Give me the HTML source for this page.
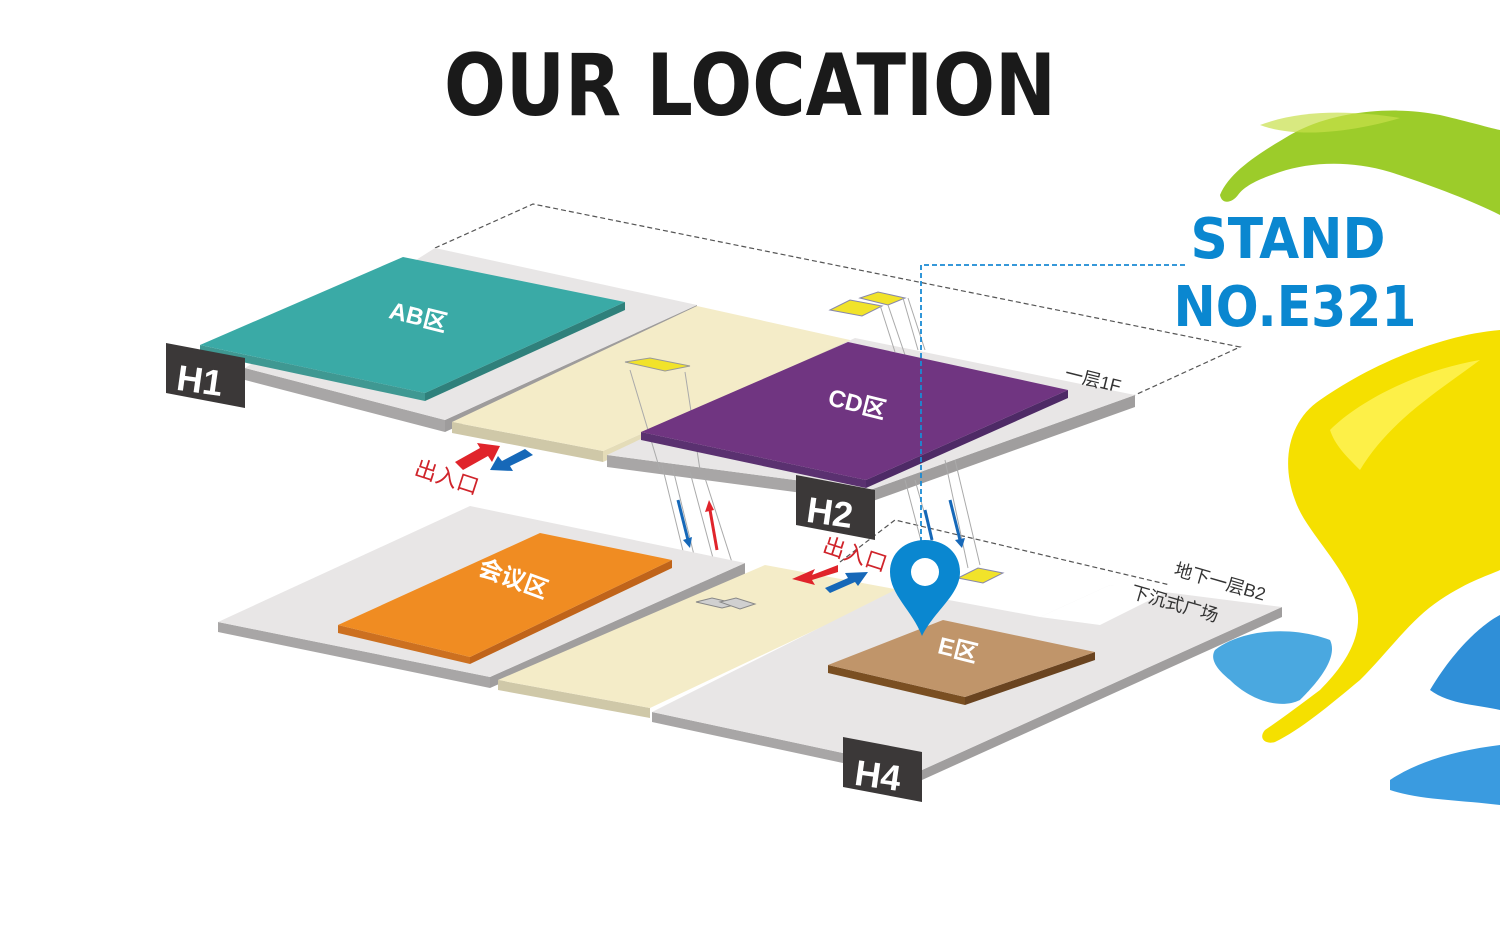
<!DOCTYPE html>
<html><head><meta charset="utf-8"><style>
html,body{margin:0;padding:0;background:#fff;}
svg{display:block}
text{font-family:"Liberation Sans","Noto Sans CJK SC",sans-serif;}
</style></head><body>
<svg width="1500" height="925" viewBox="0 0 1500 925" xmlns="http://www.w3.org/2000/svg">
<rect width="1500" height="925" fill="#fff"/>
<text x="750" y="115" text-anchor="middle" font-size="86" font-weight="bold" fill="#1a1a1a" style="font-family:'DejaVu Sans','Liberation Sans',sans-serif" textLength="612" lengthAdjust="spacingAndGlyphs">OUR LOCATION</text>

<!-- paint splashes -->
<path d="M1220,195 C1230,170 1265,150 1290,135 C1330,112 1390,105 1440,115 C1470,122 1490,128 1500,130 L1500,215 C1470,200 1430,185 1390,172 C1350,160 1310,162 1280,172 C1262,178 1245,185 1238,195 C1232,203 1222,205 1220,195Z" fill="#9ccc2a"/>
<path d="M1260,125 C1300,110 1350,110 1400,118 C1360,130 1300,140 1260,125Z" fill="#c8e04a" opacity="0.7"/>
<path d="M1500,330 C1440,335 1370,365 1320,400 C1290,420 1280,460 1295,500 C1305,530 1340,560 1355,600 C1365,630 1350,660 1320,690 C1300,705 1280,720 1265,730 C1258,738 1265,745 1275,742 C1300,730 1330,705 1360,680 C1390,650 1410,620 1440,600 C1470,580 1490,575 1500,570Z" fill="#f5e000"/>
<path d="M1330,430 C1360,400 1420,370 1480,360 C1440,390 1390,420 1360,470 C1345,455 1335,445 1330,430Z" fill="#fff45a" opacity="0.8"/>
<path d="M1215,650 C1240,630 1290,625 1330,640 C1340,660 1310,690 1300,700 C1280,710 1250,700 1230,680 C1215,668 1210,658 1215,650Z" fill="#4aa8e0"/>
<path d="M1430,690 C1460,640 1490,620 1500,615 L1500,710 C1480,705 1450,705 1430,690Z" fill="#2f8fd8"/>
<path d="M1390,780 C1420,760 1460,750 1500,745 L1500,805 C1460,800 1420,800 1390,790Z" fill="#3a9be0"/>

<!-- dashed outlines -->
<polyline points="435,248 533,204 1240,347 1135,395" fill="none" stroke="#555" stroke-width="1.2" stroke-dasharray="5,3"/>
<polyline points="840,562 895,520 1170,585" fill="none" stroke="#555" stroke-width="1.2" stroke-dasharray="5,3"/>

<!-- UPPER FLOOR -->
<!-- left gray slab -->
<polygon points="245,368 245,380 445,432 445,420" fill="#a8a6a6"/>
<polygon points="445,420 445,432 697,317 697,305" fill="#9e9c9c"/>
<polygon points="245,368 435,248 697,305 445,420" fill="#e8e6e6"/>
<!-- teal -->
<polygon points="200,345 200,353 425,401 425,393" fill="#3f9892"/>
<polygon points="425,393 425,401 625,310 625,302" fill="#2f807b"/>
<polygon points="200,345 403,257 625,302 425,393" fill="#3aaaa6"/>
<text x="418" y="325" font-size="24" font-weight="bold" fill="#fff" text-anchor="middle" transform="rotate(14 418 318)">AB区</text>
<!-- H1 -->
<polygon points="166,343 245,358 245,408 166,393" fill="#3b3838"/>
<text x="200" y="393" font-size="36" font-weight="bold" fill="#fff" text-anchor="middle" transform="rotate(8 200 380)">H1</text>
<!-- beige -->
<polygon points="452,422 452,433 603,462 603,451" fill="#cfc8a8"/>
<polygon points="603,451 603,462 850,352 850,340" fill="#e4dcb8"/>
<polygon points="452,422 697,306 850,340 603,451" fill="#f4ecc8"/>
<polygon points="625,362 650,358 690,366 665,371" fill="#f1e32a" stroke="#999" stroke-width="1"/>
<!-- right gray slab -->
<polygon points="607,455 607,467 870,502 870,490" fill="#a8a6a6"/>
<polygon points="870,490 870,502 1135,407 1135,395" fill="#a09e9e"/>
<polygon points="607,455 855,338 1135,395 870,490" fill="#e8e6e6"/>
<!-- escalator top right -->
<polygon points="830,310 850,300 882,306 862,316" fill="#f1e32a" stroke="#8888aa" stroke-width="1"/>
<polygon points="860,298 878,292 905,298 888,305" fill="#f1e32a" stroke="#8888aa" stroke-width="1"/>
<g stroke="#aaa" stroke-width="1" fill="none">
<line x1="880" y1="305" x2="895" y2="352"/><line x1="888" y1="305" x2="905" y2="355"/>
<line x1="903" y1="298" x2="918" y2="350"/><line x1="908" y1="298" x2="925" y2="350"/>
<line x1="905" y1="480" x2="930" y2="575"/><line x1="915" y1="480" x2="942" y2="575"/>
<line x1="945" y1="460" x2="968" y2="568"/><line x1="955" y1="460" x2="980" y2="565"/>
<line x1="662" y1="465" x2="695" y2="600"/><line x1="672" y1="465" x2="705" y2="600"/>
<line x1="690" y1="472" x2="725" y2="603"/><line x1="705" y1="478" x2="745" y2="603"/>
<line x1="630" y1="370" x2="660" y2="470"/><line x1="685" y1="372" x2="700" y2="470"/>
</g>
<!-- purple -->
<polygon points="641,432 641,440 866,488 866,480" fill="#5a3170"/>
<polygon points="866,480 866,488 1068,398 1068,390" fill="#4e2a66"/>
<polygon points="641,432 848,342 1068,390 866,480" fill="#703581"/>
<text x="857" y="412" font-size="24" font-weight="bold" fill="#fff" text-anchor="middle" transform="rotate(14 857 405)">CD区</text>
<text x="1093" y="386" font-size="18" fill="#333" text-anchor="middle" transform="rotate(14 1093 380)">一层1F</text>
<!-- H2 -->
<polygon points="796,475 875,490 875,540 796,525" fill="#3b3838"/>
<text x="830" y="525" font-size="36" font-weight="bold" fill="#fff" text-anchor="middle" transform="rotate(8 830 512)">H2</text>

<!-- entrance arrows upper -->
<polygon points="455,462 480,448 477,443 500,446 492,462 488,456 463,470" fill="#e0242b"/>
<polygon points="533,455 510,466 513,471 490,470 498,456 502,461 525,449" fill="#1668b8"/>
<text x="447" y="485" font-size="22" fill="#d0242b" text-anchor="middle" transform="rotate(18 447 477)">出入口</text>
<!-- escalator arrows -->
<line x1="678" y1="500" x2="688" y2="540" stroke="#1668b8" stroke-width="3"/><polygon points="683,540 692,537 690,548" fill="#1668b8"/>
<line x1="717" y1="550" x2="710" y2="510" stroke="#e0242b" stroke-width="3"/><polygon points="705,512 714,510 709,500" fill="#e0242b"/>
<line x1="925" y1="510" x2="932" y2="540" stroke="#1668b8" stroke-width="3"/>
<line x1="950" y1="500" x2="960" y2="540" stroke="#1668b8" stroke-width="3"/><polygon points="955,540 965,538 962,548" fill="#1668b8"/>

<!-- LOWER FLOOR -->
<polygon points="218,622 218,632 490,688 490,677" fill="#a8a6a6"/>
<polygon points="490,677 490,688 745,575 745,563" fill="#a09e9e"/>
<polygon points="218,622 470,506 745,563 490,677" fill="#e8e6e6"/>
<polygon points="338,625 338,633 470,664 470,657" fill="#cc7020"/>
<polygon points="470,657 470,664 672,568 672,560" fill="#c0641a"/>
<polygon points="338,625 540,533 672,560 470,657" fill="#f08c22"/>
<text x="513" y="587" font-size="24" font-weight="bold" fill="#fff" text-anchor="middle" transform="rotate(20 513 580)">会议区</text>
<!-- beige lower -->
<polygon points="498,680 498,690 650,718 650,708" fill="#cfc8a8"/>
<polygon points="498,680 765,565 900,590 650,708" fill="#f4ecc8"/>
<polygon points="696,602 712,598 738,604 722,608" fill="#d0d0d0" stroke="#888"/>
<polygon points="720,602 736,598 755,604 740,609" fill="#d0d0d0" stroke="#888"/>
<!-- right lower slab -->
<polygon points="652,712 652,722 922,780 922,770" fill="#a8a6a6"/>
<polygon points="922,770 922,780 1282,617 1282,607" fill="#a09e9e"/>
<polygon points="652,712 895,590 1040,617 1110,585 1282,607 922,770" fill="#e8e6e6"/>
<polygon points="1040,617 1110,585 1170,590 1100,625" fill="#fff"/>
<polygon points="958,578 978,568 1003,573 983,583" fill="#f1e32a" stroke="#8888aa"/>
<!-- brown E -->
<polygon points="828,665 828,673 965,705 965,697" fill="#7a4f22"/>
<polygon points="965,697 965,705 1095,660 1095,652" fill="#6a4420"/>
<polygon points="828,665 943,620 1095,652 965,697" fill="#c0956a"/>
<text x="958" y="658" font-size="24" font-weight="bold" fill="#fff" text-anchor="middle" transform="rotate(14 958 650)">E区</text>
<text x="1220" y="588" font-size="18" fill="#333" text-anchor="middle" transform="rotate(16 1220 582)">地下一层B2</text>
<text x="1175" y="610" font-size="18" fill="#333" text-anchor="middle" transform="rotate(16 1175 603)">下沉式广场</text>
<!-- H4 -->
<polygon points="843,737 922,752 922,802 843,787" fill="#3b3838"/>
<text x="878" y="788" font-size="36" font-weight="bold" fill="#fff" text-anchor="middle" transform="rotate(8 878 775)">H4</text>
<!-- entrance lower -->
<polygon points="838,565 812,575 815,569 792,579 815,585 812,580 838,572" fill="#e0242b"/>
<polygon points="825,588 848,578 845,573 868,572 858,586 855,582 830,593" fill="#1668b8"/>
<text x="855" y="562" font-size="22" fill="#d0242b" text-anchor="middle" transform="rotate(18 855 555)">出入口</text>

<!-- blue dashed callout -->
<polyline points="1185,265 921,265 921,570" fill="none" stroke="#1a8ad4" stroke-width="1.8" stroke-dasharray="5,3"/>
<!-- pin -->
<path d="M922,636 C912,610 890,595 890,572 C890,553 905,540 925,540 C945,540 960,553 960,572 C960,595 935,610 922,636Z" fill="#0a87d0"/>
<circle cx="925" cy="572" r="14" fill="#fff"/>

<text x="1288" y="258" font-size="56" font-weight="bold" fill="#0a87d0" text-anchor="middle" style="font-family:'DejaVu Sans','Liberation Sans',sans-serif" textLength="195" lengthAdjust="spacingAndGlyphs">STAND</text>
<text x="1295" y="326" font-size="56" font-weight="bold" fill="#0a87d0" text-anchor="middle" style="font-family:'DejaVu Sans','Liberation Sans',sans-serif" textLength="243" lengthAdjust="spacingAndGlyphs">NO.E321</text>
</svg>
</body></html>
